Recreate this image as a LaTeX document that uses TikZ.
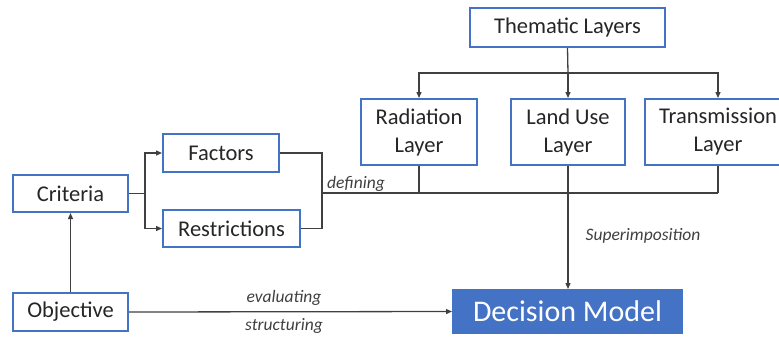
\documentclass[tikz,border=0pt]{standalone}
\usepackage{fontspec}
\setmainfont{Carlito}
\usetikzlibrary{arrows.meta}
\definecolor{boxblue}{HTML}{4472C4}
\definecolor{linegray}{HTML}{404040}
\begin{document}
\begin{tikzpicture}[x=1pt,y=-1pt,
 box/.style={draw=boxblue,line width=2pt,fill=white,inner sep=0pt,align=center,
   font=\fontsize{22.5}{28}\selectfont,text=black!85},
 conn/.style={draw=linegray,line width=1.3pt},
 arr/.style={conn,-{Triangle[length=6pt,width=5pt]}},
 lab/.style={font=\itshape\fontsize{17.5}{20}\selectfont,text=linegray,inner sep=2pt}]
\useasboundingbox (0,0) rectangle (779,338);
\node[box,minimum width=195pt,minimum height=39pt] (them) at (567.5,27.5) {Thematic Layers};
\node[box,minimum width=116pt,minimum height=66pt] (rad) at (419,132) {Radiation\\Layer};
\node[box,minimum width=114pt,minimum height=66pt] (land) at (568,132) {Land Use\\Layer};
\node[box,minimum width=146pt,minimum height=66pt] (tra) at (718,132) {Transmission\\Layer};
\node[box,minimum width=115pt,minimum height=37pt] (crit) at (70.5,193.5) {Criteria};
\node[box,minimum width=115pt,minimum height=38pt] (obj) at (70.5,312) {Objective};
\node[box,minimum width=116pt,minimum height=38pt] (fac) at (221,153) {Factors};
\node[box,minimum width=137pt,minimum height=37pt] (res) at (231.5,228.5) {Restrictions};
\node[box,fill=boxblue,draw=boxblue,text=white,minimum width=229pt,minimum height=43pt,
  font=\fontsize{30}{34}\selectfont] (dec) at (567.5,311.5) {Decision Model};
% thematic tree
\coordinate (tj) at (568,73);
\draw[conn] (them.south) -- (tj);
\draw[arr] (tj) -| (rad.north);
\draw[arr] (tj) -| (tra.north);
\draw[arr] (tj) -- (land.north);
% criteria
\coordinate (cj) at (145,193.5);
\draw[conn] (crit.east) -- (cj);
\draw[arr] (cj) |- (fac.west);
\draw[arr] (cj) |- (res.west);
\coordinate (dj) at (322,193);
\coordinate (te) at (718,193);
\draw[conn] (fac.east) -| (dj) |- (res.east);
\draw[conn] (dj) -- (te);
\draw[conn] (rad.south) -- (rad.south |- dj);
\draw[conn] (tra.south) -- (te);
\node[lab,anchor=south west] (deflab) at (325,194) {defining};
% superimposition
\draw[arr] (land.south) -- (land.south |- dec.north);
\node[lab] (suplab) at (643,236) {Superimposition};
% objective
\draw[arr] (obj.east) -- (dec.west)
  node[lab,pos=0.48,above=4pt] (evlab) {evaluating}
  node[lab,pos=0.48,below=4pt] (stlab) {structuring};
\draw[arr] (obj.north) -- (crit.south);
\end{tikzpicture}
\end{document}
